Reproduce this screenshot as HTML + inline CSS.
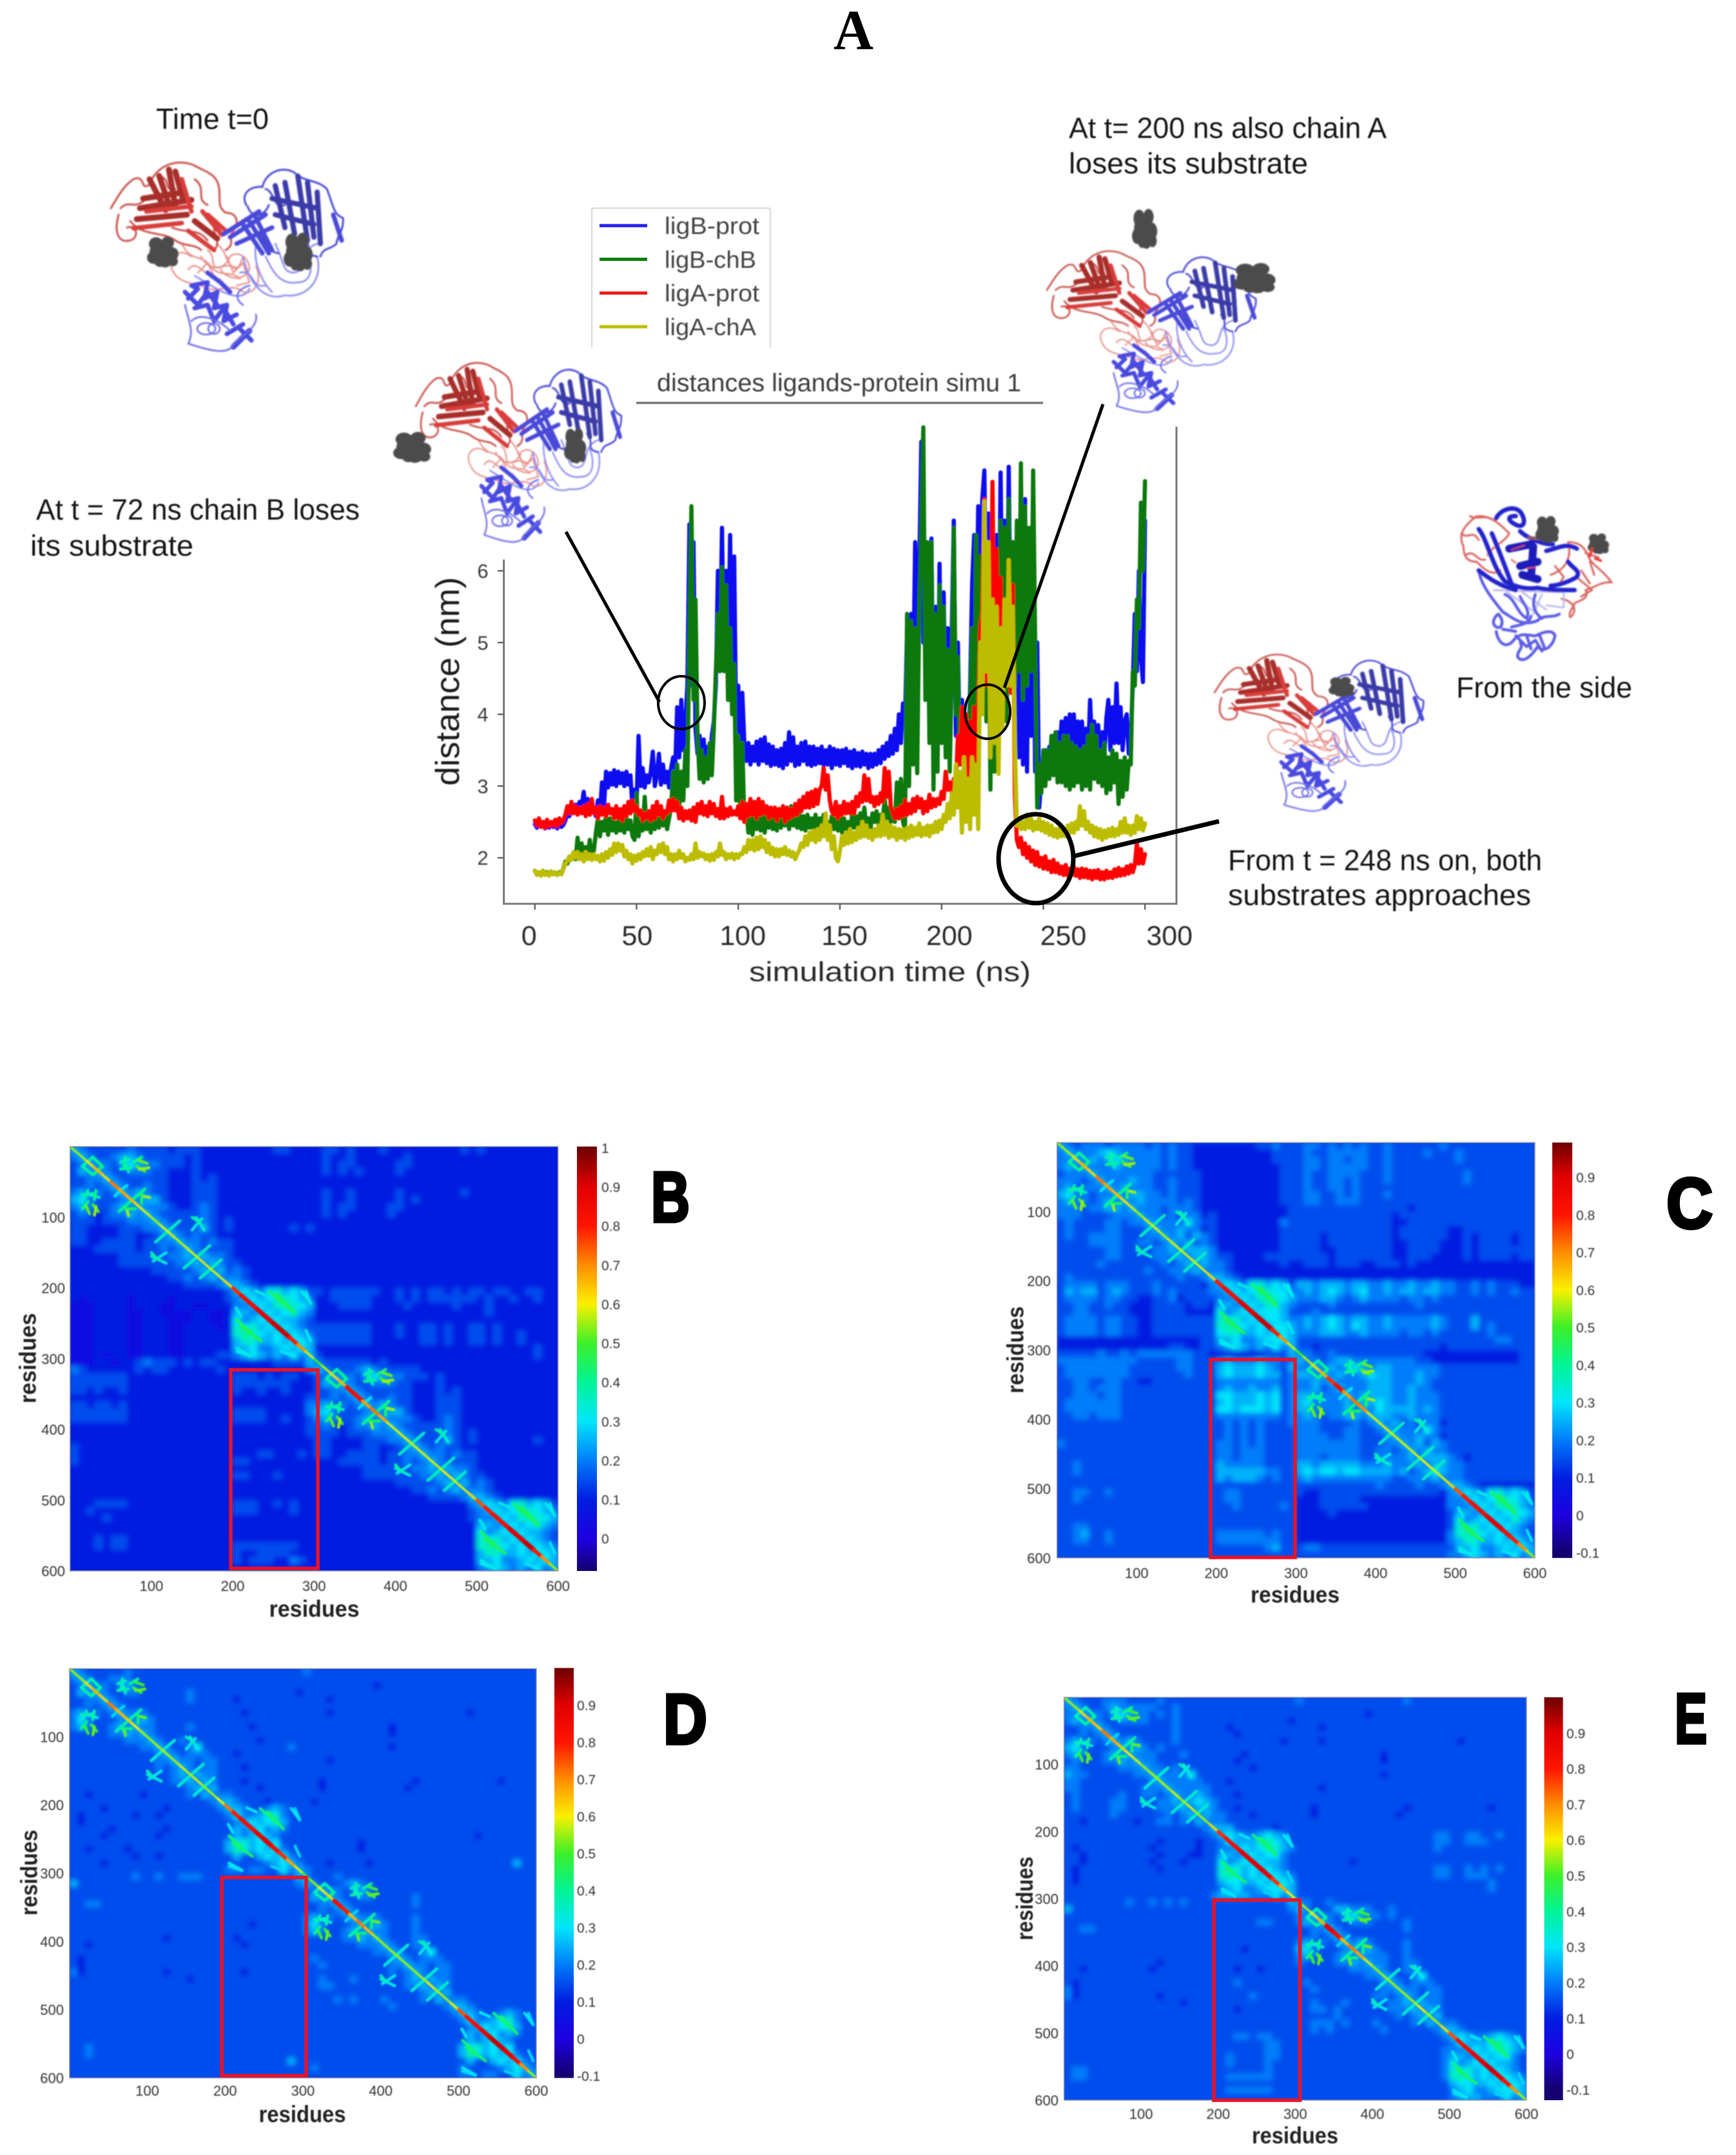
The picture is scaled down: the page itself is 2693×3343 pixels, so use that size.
<!DOCTYPE html>
<html lang="en"><head><meta charset="utf-8"><title>Ligand distances and correlation maps</title>
<style>
html,body{margin:0;padding:0;background:#fff}
svg{display:block}
text{font-family:"Liberation Sans",sans-serif}
</style></head>
<body>
<svg id="fig" xmlns="http://www.w3.org/2000/svg" width="2693" height="3343" viewBox="0 0 2693 3343">
<defs>
<filter id="soft" x="-5%" y="-5%" width="110%" height="110%"><feGaussianBlur stdDeviation="1"/></filter>
<filter id="softer" x="-5%" y="-5%" width="110%" height="110%"><feGaussianBlur stdDeviation="0.7"/></filter>
<filter id="cellblur" x="-5%" y="-5%" width="110%" height="110%"><feGaussianBlur stdDeviation="4"/></filter>
<g id="protein-fold" fill="none" stroke-linecap="round" stroke-linejoin="round">
  <g stroke="#e8908a" stroke-width="2.4">
    <path d="M125 150 C105 135 85 150 95 170 C105 195 135 190 150 200 C170 205 190 190 205 205 C225 210 235 185 225 165"/>
    <path d="M140 150 C150 170 175 175 185 150 C195 140 215 150 215 170 C205 190 180 185 170 170"/>
    <path d="M150 140 C165 150 150 175 175 165 C195 160 195 180 205 150"/>
    <path d="M110 130 C125 160 140 145 155 165 C170 185 190 170 200 185 M165 130 C185 150 175 160 195 170 M120 170 C135 150 150 190 170 185"/>
    <path d="M180 150 L190 175 L205 160 L215 190 L195 195 M135 175 L150 160 L160 180"/>
  </g>
  <g stroke="#c9524e" stroke-width="3">
    <path d="M0 75 C12 55 20 40 35 30 C55 22 45 50 60 38 C70 10 100 -3 128 8 C150 20 165 22 168 45 C170 65 165 72 178 82 C195 82 200 95 190 110 C180 120 195 130 178 140"/>
    <path d="M12 85 C5 110 10 130 30 125 C45 120 40 100 25 105"/>
    <path d="M30 95 C50 120 80 110 100 125 C115 135 130 130 140 140"/>
    <path d="M15 75 C30 60 35 80 55 60 M75 25 C95 30 80 50 100 45 M130 30 C150 45 130 60 150 70"/>
    <path d="M95 105 C120 115 135 105 150 125 M165 95 C150 110 175 125 160 140"/>
  </g>
  <g stroke="#a82f2c" stroke-width="9">
    <path d="M45 75 L125 62"/><path d="M40 92 L118 85"/><path d="M60 30 L85 78"/><path d="M75 25 L92 75"/><path d="M90 15 L100 72"/><path d="M130 95 L165 122"/><path d="M50 60 L115 50"/><path d="M100 18 L112 62"/>
  </g>
  <g stroke="#d83d3a" stroke-width="7">
    <path d="M35 106 L110 98"/><path d="M110 30 L125 80"/><path d="M142 80 L172 116"/><path d="M120 110 L160 140"/><path d="M150 85 L178 110"/><path d="M55 80 L125 72"/>
  </g>
  <g stroke="#8a8aee" stroke-width="2.6">
    <path d="M205 150 C215 195 240 220 270 210 C300 215 330 190 320 150"/>
    <path d="M240 150 C250 170 260 195 290 190 C315 190 312 160 305 145"/>
    <path d="M215 200 C200 230 150 190 130 180"/>
    <path d="M225 130 C220 160 235 190 250 205"/>
    <path d="M255 130 C270 160 265 175 285 175 C305 170 290 140 320 130 M200 175 C225 170 215 200 240 195"/>
  </g>
  <g stroke="#4a4ad6" stroke-width="3">
    <path d="M210 70 C200 50 220 40 235 42 C240 20 265 8 285 20 C300 35 320 30 335 45 C345 70 345 85 360 90 C362 110 350 120 350 130 C340 140 330 135 325 150"/>
    <path d="M212 72 C220 95 240 85 245 70"/>
    <path d="M240 45 C255 50 250 75 270 70 M300 120 C315 135 295 145 320 150 M225 110 C245 125 235 140 260 145"/>
  </g>
  <g stroke="#3a3aa8" stroke-width="8">
    <path d="M255 40 L270 105"/><path d="M270 35 L285 115"/><path d="M290 25 L305 125"/><path d="M320 50 L325 130"/><path d="M250 60 L320 75"/><path d="M255 85 L315 100"/><path d="M305 35 L315 120"/>
  </g>
  <g stroke="#4848d8" stroke-width="7">
    <path d="M185 120 L240 85"/><path d="M195 130 L250 105"/><path d="M205 100 L235 145"/><path d="M225 90 L250 140"/><path d="M345 85 L358 125"/><path d="M175 115 L230 80"/><path d="M215 95 L245 145"/>
  </g>
  <g stroke="#4a4ae0" stroke-width="7">
    <path d="M120 215 L135 200 L125 195 L150 190 L145 215 L165 205 L160 230 L180 225 L175 250 L195 240"/>
    <path d="M130 230 L150 225 L160 250 L175 230 L190 255"/>
    <path d="M150 175 L170 190 L185 205"/>
    <path d="M115 205 L135 225 L150 205 L165 225"/>
    <path d="M190 290 L215 265" stroke-width="9"/><path d="M200 262 L218 280"/><path d="M180 270 L205 255"/>
  </g>
  <g stroke="#6a6ae8" stroke-width="2.6">
    <path d="M115 225 C120 250 130 265 120 285 C150 295 185 305 190 285 C200 275 230 260 225 240"/>
    <ellipse cx="148" cy="262" rx="14" ry="9"/><ellipse cx="160" cy="262" rx="9" ry="8"/>
    <path d="M125 250 C140 235 170 250 185 265 M205 225 C190 215 195 200 215 195"/>
  </g>
</g>
<g id="ligand-blob" fill="#4b4b4b">
  <circle cx="14" cy="12" r="11"/><circle cx="32" cy="10" r="10"/><circle cx="24" cy="24" r="14"/><circle cx="10" cy="34" r="10"/><circle cx="38" cy="28" r="11"/><circle cx="28" cy="40" r="10"/><circle cx="40" cy="40" r="8"/><circle cx="14" cy="24" r="10"/><circle cx="20" cy="40" r="9"/>
</g>
</defs>

<rect x="0" y="0" width="2693" height="3343" fill="#fff"/>
<text x="1293" y="76" style="font-family:'Liberation Serif',serif;font-weight:700" font-size="88" fill="#000" textLength="62" lengthAdjust="spacingAndGlyphs">A</text>

<g id="proteins" filter="url(#soft)">
  <g>
    <use href="#protein-fold" transform="translate(172,248)"/>
    <use href="#ligand-blob" transform="translate(228,367) scale(1,0.96)"/>
    <use href="#ligand-blob" transform="translate(440,361) scale(0.92,1.2)"/>
  </g>
  <g>
    <use href="#protein-fold" transform="translate(645,559) scale(0.885,0.95)"/>
    <use href="#ligand-blob" transform="translate(610,670) scale(1.2,0.96)"/>
    <use href="#ligand-blob" transform="translate(875,664) scale(0.7,1.1)"/>
  </g>
  <g>
    <use href="#protein-fold" transform="translate(1624,386) scale(0.9,0.855)"/>
    <use href="#ligand-blob" transform="translate(1756,324) scale(0.8,1.24)"/>
    <use href="#ligand-blob" transform="translate(1913,408) scale(1.34,0.94)"/>
  </g>
  <g>
    <use href="#protein-fold" transform="translate(1884,1012) scale(0.9,0.83)"/>
    <use href="#ligand-blob" transform="translate(2061,1050) scale(0.82,0.62)"/>
  </g>
  <g transform="translate(2250,770) scale(0.338)" fill="none" stroke-linecap="round" stroke-linejoin="round">
    <g stroke="#d9635e" stroke-width="9">
      <path d="M120 90 C70 130 30 170 60 230 C60 280 80 300 120 300 C150 330 190 370 230 340"/>
      <path d="M130 90 C190 90 230 130 270 170 C250 210 190 230 170 270"/>
      <path d="M90 90 C120 110 160 80 200 110 M50 170 C80 200 100 150 130 200 M70 270 C110 240 120 300 160 290"/>
      <path d="M460 360 C520 340 560 290 540 210 C600 210 620 240 640 290 C660 320 700 340 740 395 C690 390 660 420 620 430 C640 470 590 480 570 490 C560 520 540 530 550 555 C590 520 560 480 510 470"/>
      <path d="M620 260 L680 280 M640 300 L660 360 M600 340 L640 400 M480 320 L520 370 L500 400 M590 380 L650 430 L600 460"/>
    </g>
    <g stroke="#b8b8f0" stroke-width="8"><path d="M200 430 L520 440 L520 510 L440 500"/><path d="M260 440 L400 540 M330 440 L440 520 M420 450 L380 540"/></g>
    <g stroke="#5a5ae6" stroke-width="13">
      <path d="M130 340 C140 410 200 480 240 530 C290 560 330 600 400 570 C430 540 470 560 500 540"/>
      <path d="M250 450 C300 470 300 530 350 560 C370 520 330 490 320 460 M390 450 C370 500 390 540 420 560"/>
      <path d="M220 540 C180 570 200 610 230 600 C250 570 220 540 220 540 M210 620 C220 680 260 700 290 660 C320 620 360 640 390 640 C430 620 470 610 480 640 C470 690 430 720 400 690 C380 720 340 770 310 740 C300 710 340 700 320 670"/>
      <path d="M280 600 C310 590 360 590 370 550 M300 640 L350 690 L390 660 L420 710 M240 610 L300 620 M350 640 L370 700 M410 640 L430 690"/>
    </g>
    <g stroke="#2222cc" stroke-width="20">
      <path d="M130 150 C170 200 190 320 250 390 C290 410 340 430 400 420 C440 430 500 430 570 430"/>
      <path d="M210 100 C230 60 290 40 320 70 C350 110 340 150 300 130 C260 110 260 90 300 90"/>
      <path d="M190 170 C220 240 250 320 280 400 M130 340 C170 370 220 410 300 430"/>
      <path d="M440 250 C490 240 530 210 580 240 M540 300 C560 330 600 340 580 370 C550 390 490 410 460 410"/>
      <path d="M320 160 C350 190 420 220 470 220"/>
    </g>
    <g stroke="#1a1ab8" stroke-width="36">
      <path d="M270 240 L370 220 M320 320 L400 300 M330 360 L400 380 M380 230 L370 370"/>
    </g>
    <g stroke="#e85040" stroke-width="6"><path d="M280 245 L340 225 M280 290 L300 305 M350 330 L390 325"/></g>
    <g stroke="#8e5a60" stroke-width="16"><path d="M360 190 L420 195"/></g>
    <use href="#ligand-blob" transform="translate(390,90) scale(2.2,2.5)" stroke="none"/>
    <use href="#ligand-blob" transform="translate(630,170) scale(2,1.9)" stroke="none"/>
    <path stroke="#ef3a30" stroke-width="12" d="M650 240 L640 275 M665 285 L690 295"/>
  </g>
</g>

<g id="annotations" filter="url(#softer)" fill="#161616" font-size="45">
  <text x="242" y="200" textLength="175" lengthAdjust="spacingAndGlyphs">Time t=0</text>
  <text x="56" y="806" textLength="502" lengthAdjust="spacingAndGlyphs">At t = 72 ns chain B loses</text>
  <text x="47" y="862" textLength="253" lengthAdjust="spacingAndGlyphs">its substrate</text>
  <text x="1658" y="214" textLength="493" lengthAdjust="spacingAndGlyphs">At t= 200 ns also chain A</text>
  <text x="1658" y="269" textLength="371" lengthAdjust="spacingAndGlyphs">loses its substrate</text>
  <text x="2259" y="1082" textLength="273" lengthAdjust="spacingAndGlyphs">From the side</text>
  <text x="1905" y="1350" textLength="487" lengthAdjust="spacingAndGlyphs">From t = 248 ns on, both</text>
  <text x="1905" y="1404" textLength="470" lengthAdjust="spacingAndGlyphs">substrates approaches</text>
</g>

<g id="line-chart"></g>

<g id="callouts" fill="none" stroke="#000">
  <line x1="878" y1="825" x2="1023" y2="1089" stroke-width="5"/>
  <ellipse cx="1057" cy="1090" rx="36" ry="41" stroke-width="4"/>
  <line x1="1711" y1="627" x2="1558" y2="1067" stroke-width="5"/>
  <ellipse cx="1532" cy="1104" rx="35" ry="42" stroke-width="4"/>
  <line x1="1666" y1="1328" x2="1891" y2="1274" stroke-width="7"/>
  <ellipse cx="1607" cy="1332" rx="58" ry="69" stroke-width="7"/>
</g>

<g id="heatmaps"></g>
</svg>

<script>
/* ---------- panel A: distance series, one value per ns, nm ---------- */
const seriesNames = ['ligB-prot','ligB-chB','ligA-prot','ligA-chA'];
const xTicks = [0,50,100,150,200,250,300];
const yTicks = [2,3,4,5,6];
const ligBProt = [
2.47,2.42,2.5,2.44,2.48,2.41,2.46,2.42,2.49,2.43,
2.46,2.41,2.47,2.43,2.46,2.52,2.62,2.58,2.72,2.66,
2.74,2.68,2.78,2.7,2.92,2.72,2.82,2.68,2.76,2.66,
2.58,2.8,2.62,3.05,2.72,3.2,2.98,3.18,3.02,3.22,
3.0,3.2,3.04,3.18,3.0,3.2,3.02,3.15,2.7,2.95,
2.75,3.7,3.0,3.25,2.98,3.15,3.05,3.2,3.48,3.0,
3.15,3.45,3.02,3.3,3.05,3.2,2.98,3.25,3.4,3.25,
4.1,3.4,4.2,3.5,3.9,4.4,6.65,4.4,6.4,3.8,
3.45,3.7,3.3,3.65,3.25,3.55,3.2,3.7,3.9,4.4,
6.0,4.8,6.6,4.7,6.0,4.6,6.5,4.5,6.2,3.8,
4.4,3.3,4.3,3.6,3.35,3.6,3.3,3.55,3.35,3.62,
3.3,3.65,3.35,3.68,3.32,3.58,3.28,3.55,3.3,3.5,
3.28,3.52,3.25,3.6,3.3,3.75,3.35,3.68,3.28,3.55,
3.3,3.6,3.35,3.62,3.3,3.55,3.28,3.55,3.3,3.52,
3.32,3.55,3.28,3.5,3.3,3.55,3.25,3.52,3.3,3.5,
3.28,3.5,3.32,3.52,3.28,3.48,3.25,3.5,3.28,3.46,
3.27,3.48,3.3,3.45,3.25,3.45,3.27,3.45,3.3,3.5,
3.32,3.55,3.38,3.6,3.42,3.7,3.45,3.8,3.5,4.0,
3.6,4.15,3.9,5.2,4.3,5.4,4.4,6.4,4.5,6.0,
7.8,5.0,5.8,4.6,6.0,6.45,3.7,5.5,3.6,6.1,
3.9,5.7,3.9,5.2,3.6,5.2,6.7,3.7,5.0,3.5,
4.2,3.4,4.0,3.2,4.4,5.8,6.5,5.0,6.9,5.2,
7.0,7.4,5.5,6.8,3.9,6.2,4.6,6.5,4.6,7.37,
5.0,6.7,4.8,7.45,5.0,6.4,3.3,6.0,3.4,7.0,
3.3,7.0,3.2,6.3,3.7,6.0,3.2,5.0,2.7,3.1,
3.2,3.5,3.3,3.55,3.4,3.7,3.35,3.75,3.45,3.9,
3.5,3.95,3.55,4.0,3.5,4.0,3.45,3.9,3.45,3.9,
3.45,3.8,3.4,4.2,3.55,3.9,3.4,3.85,3.35,3.75,
3.4,3.95,4.2,3.5,4.1,3.6,4.43,3.6,4.1,3.5,
3.9,4.0,3.45,3.7,4.4,5.4,4.6,6.0,4.8,4.45,
6.7];
const ligBChB = [
1.82,1.78,1.8,1.76,1.82,1.77,1.8,1.78,1.81,1.77,
1.79,1.76,1.8,1.77,1.85,1.95,1.92,2.02,1.98,2.05,
1.98,2.28,2.0,2.2,2.02,2.15,2.0,2.25,2.02,2.1,
2.35,2.55,2.3,2.5,2.38,2.6,2.32,2.55,2.38,2.5,
2.35,2.52,2.38,2.55,2.35,2.58,2.4,2.52,2.3,2.25,
2.9,2.3,2.5,2.38,2.85,2.4,2.55,2.35,2.62,2.4,
2.58,2.42,2.6,2.45,2.62,2.4,2.55,2.7,3.2,2.7,
3.3,2.7,3.2,2.8,3.5,3.0,5.2,6.9,4.2,5.6,
3.7,3.1,3.5,3.05,3.4,3.1,3.6,3.15,3.8,4.6,
5.4,4.6,6.05,4.6,5.8,4.2,5.2,4.0,4.7,2.8,
3.7,2.6,3.6,2.5,2.65,2.35,2.55,2.32,2.6,2.4,
2.62,2.38,2.6,2.35,2.58,2.42,2.65,2.4,2.6,2.38,
2.6,2.42,2.65,2.45,2.68,2.4,2.72,2.45,2.6,2.42,
2.62,2.4,2.58,2.38,2.6,2.42,2.55,2.38,2.6,2.4,
2.55,2.42,2.6,2.38,2.5,2.36,2.58,2.4,2.55,2.38,
2.6,2.35,2.55,2.4,2.5,2.35,2.6,2.42,2.58,2.4,
2.62,2.45,2.7,2.42,2.55,2.4,2.62,2.5,2.65,2.45,
2.6,2.5,2.82,2.55,2.7,2.5,2.6,2.5,3.05,2.55,
3.1,2.5,2.4,5.4,3.0,5.3,3.3,5.2,3.18,5.5,
6.5,8.0,4.2,6.4,3.6,6.4,2.95,5.4,3.2,5.8,
3.6,5.5,3.4,4.9,3.2,4.6,6.6,4.0,4.8,3.3,
4.0,3.2,3.9,3.0,4.2,5.2,3.5,6.5,3.9,6.2,
4.2,6.4,3.9,5.8,2.95,5.6,3.2,6.3,3.5,6.7,
4.4,6.6,3.9,7.0,4.4,6.4,4.4,6.7,4.6,7.5,
4.2,6.9,4.4,6.6,4.6,7.4,5.0,2.7,3.3,2.9,
3.5,3.0,3.5,3.1,3.7,3.15,3.75,3.05,3.6,3.05,
3.7,3.0,3.7,2.95,3.6,3.0,3.55,3.05,3.5,2.95,
3.55,3.0,3.7,2.95,3.85,3.1,3.7,3.05,3.5,3.0,
3.6,2.9,3.4,2.95,3.5,3.05,3.45,2.75,3.35,2.85,
3.4,2.95,3.35,3.3,4.6,4.4,5.6,5.2,6.95,6.0,
7.25];
const ligAProt = [
2.52,2.45,2.55,2.43,2.5,2.42,2.53,2.44,2.5,2.45,
2.53,2.44,2.55,2.48,2.52,2.6,2.72,2.62,2.78,2.62,
2.72,2.6,2.7,2.62,2.72,2.58,2.75,2.6,2.82,2.62,
2.7,2.55,2.72,2.6,2.7,2.58,2.74,2.62,2.68,2.55,
2.72,2.55,2.68,2.52,2.72,2.58,2.78,2.62,2.8,2.65,
2.72,2.6,2.66,2.52,2.62,2.55,2.65,2.52,2.72,2.55,
2.78,2.6,2.72,2.55,2.65,2.62,2.8,2.65,2.82,2.66,
2.78,2.55,2.7,2.52,2.65,2.55,2.66,2.52,2.7,2.5,
2.75,2.62,2.78,2.6,2.72,2.58,2.78,2.62,2.75,2.58,
2.68,2.55,2.85,2.55,2.68,2.58,2.7,2.6,2.65,2.6,
2.72,2.55,2.78,2.5,2.75,2.58,2.82,2.6,2.78,2.55,
2.82,2.6,2.78,2.62,2.72,2.55,2.7,2.58,2.7,2.52,
2.68,2.58,2.72,2.5,2.7,2.55,2.68,2.58,2.75,2.6,
2.8,2.65,2.85,2.7,2.9,2.7,2.92,2.72,2.95,2.75,
2.95,3.0,3.25,2.95,3.15,2.8,2.65,2.6,2.78,2.55,
2.72,2.6,2.78,2.62,2.75,2.62,2.78,2.62,2.85,2.72,
2.9,2.78,3.15,2.8,3.1,2.78,2.85,2.72,2.85,2.75,
2.9,2.78,3.25,2.85,3.2,2.72,2.62,2.55,2.68,2.55,
2.72,2.58,2.8,2.6,2.75,2.62,2.82,2.65,2.85,2.7,
2.82,2.62,2.78,2.65,2.88,2.7,2.82,2.72,2.82,2.75,
2.92,2.82,3.2,2.95,3.05,2.9,3.1,3.0,3.7,3.3,
4.1,3.2,4.0,3.1,3.9,3.3,4.1,3.3,3.9,5.2,
5.4,7.0,4.4,5.5,3.9,7.24,4.6,6.3,4.8,5.9,
4.2,5.4,4.6,5.6,4.3,5.8,2.9,2.25,2.15,2.28,
2.05,2.2,2.0,2.15,1.95,2.1,1.9,2.08,1.88,2.0,
1.85,2.02,1.84,1.95,1.8,1.97,1.8,1.92,1.78,1.88,
1.76,1.9,1.75,1.85,1.76,1.88,1.75,1.84,1.72,1.85,
1.73,1.84,1.72,1.82,1.7,1.82,1.72,1.83,1.7,1.8,
1.7,1.82,1.72,1.8,1.72,1.84,1.74,1.86,1.75,1.84,
1.76,1.88,1.78,1.9,1.8,1.9,2.2,1.92,2.12,1.92,
2.05];
const ligAChA = [
1.82,1.76,1.8,1.75,1.82,1.76,1.79,1.75,1.81,1.77,
1.8,1.76,1.79,1.77,1.84,1.92,1.96,2.02,1.97,2.08,
2.0,2.08,1.98,2.05,1.95,2.08,1.98,2.05,1.97,2.05,
1.98,2.03,1.95,2.05,1.96,2.08,2.0,2.12,2.04,2.2,
2.08,2.2,2.1,2.18,2.02,2.1,1.98,2.05,1.92,2.03,
1.96,2.05,1.98,2.08,2.02,2.12,2.03,2.15,1.98,2.1,
2.05,2.18,2.08,2.2,2.05,2.15,1.98,2.05,1.95,2.05,
1.98,2.1,2.0,2.05,1.95,2.0,1.97,2.05,1.98,2.2,
2.0,2.08,2.02,2.06,1.98,2.04,1.96,2.05,1.97,2.08,
2.02,2.2,2.04,2.08,1.98,2.05,2.0,2.06,1.98,2.05,
2.0,2.06,2.05,2.15,2.08,2.25,2.12,2.25,2.1,2.28,
2.12,2.3,2.15,2.25,2.08,2.2,2.05,2.14,2.02,2.12,
2.02,2.12,2.05,2.15,2.04,2.1,2.02,2.08,1.98,2.05,
2.1,2.2,2.15,2.3,2.18,2.35,2.25,2.38,2.22,2.4,
2.25,2.45,2.3,2.62,2.25,2.45,2.12,2.3,2.0,1.95,
2.1,2.3,2.18,2.35,2.2,2.4,2.22,2.35,2.25,2.42,
2.28,2.5,2.3,2.45,2.28,2.38,2.25,2.4,2.3,2.45,
2.3,2.6,2.32,2.5,2.28,2.45,2.3,2.42,2.25,2.4,
2.28,2.4,2.25,2.42,2.28,2.45,2.3,2.42,2.32,2.48,
2.3,2.42,2.32,2.45,2.3,2.45,2.35,2.5,2.36,2.52,
2.4,2.6,2.5,2.75,2.55,2.9,2.6,3.3,2.7,3.2,
2.35,3.4,2.5,3.1,2.4,3.4,2.6,3.3,2.4,5.0,
4.0,6.97,4.6,6.4,3.4,5.6,3.6,5.5,3.17,5.2,
3.8,5.6,4.4,6.15,4.4,5.5,3.6,2.45,2.55,2.4,
2.5,2.4,2.6,2.42,2.55,2.38,2.5,2.4,2.55,2.38,
2.5,2.35,2.48,2.32,2.45,2.3,2.4,2.28,2.42,2.3,
2.4,2.3,2.45,2.35,2.48,2.35,2.5,2.4,2.72,2.45,
2.65,2.4,2.5,2.35,2.45,2.3,2.42,2.28,2.4,2.25,
2.38,2.28,2.4,2.3,2.42,2.3,2.4,2.32,2.5,2.35,
2.55,2.35,2.45,2.32,2.45,2.35,2.58,2.4,2.55,2.38,
2.48];

/* ---------- panels B-E: correlation maps, 10-residue cells, code/20 = value ---------- */
const residueTicks = [100,200,300,400,500,600];
const colorbarTicksB = [0,0.1,0.2,0.3,0.4,0.5,0.6,0.7,0.8,0.9,1];
const colorbarTicksCDE = [-0.1,0,0.1,0.2,0.3,0.4,0.5,0.6,0.7,0.8,0.9];
const colorValues = [-0.1,0,0.1,0.2,0.3,0.4,0.5,0.6,0.7,0.8,0.9,1];
const colorRgb = ['20,0,110','30,0,225','0,30,225','0,125,250','0,230,250','0,245,150','60,240,40','250,240,0','255,140,0','255,20,0','225,0,0','110,0,0'];
const contactStrokes = [
[15,28,28,40,.4],[28,40,40,28,.42],[40,28,28,15,.4],[28,15,15,28,.38],
[15,68,30,66,.38],[15,88,22,78,.42],[28,82,35,92,.5],[22,68,36,72,.36],
[62,22,72,18,.38],[62,32,75,30,.4],[85,20,95,24,.52],[85,32,97,30,.55],
[92,60,60,92,.4],[62,62,55,70,.3],[90,70,98,72,.55],[80,88,68,88,.45],
[135,105,105,135,.36],[172,140,140,172,.36],[186,160,160,186,.36],
[118,165,100,155,.34],[150,118,162,102,.32],[150,100,160,108,.38],
[210,255,235,275,.46],[205,290,222,296,.3],[210,240,204,228,.32],[245,205,262,222,.44],[285,205,296,222,.32],[290,260,296,275,.3]
];
const strokeOffset = 300;

const cellsB = [
"5433333433 3323332222 2222233222 2332322232 2222222232 3222222222",
"4543345543 3333232222 2222222222 2322322222 2322222222 2222222222",
"3454435654 4333232222 2222222222 2323322222 3322222222 2222222222",
"3545433444 3322232222 2222222222 2323232222 3222222222 2222222222",
"3344543333 3322232322 2222222222 2222222222 2222222222 2222222222",
"3343454334 3322233322 2222222222 2222222222 2222222222 2222222222",
"4534345454 3322233322 2222222222 2322322222 3222222232 2222222222",
"5643334545 5322233322 2222222222 2322322222 3232222222 2222222222",
"4543345454 4432234322 2222222222 2323322223 3222222222 2222222222",
"3432344545 4333334322 2222222222 2323222223 2222222222 2222222222",
"3332333444 5433334323 2222222222 2222222222 2222222222 2222222222",
"3322223334 4543335323 2222222323 2222222222 2222222222 2222222222",
"3322223322 3454343322 2222222222 2222222222 2222222222 2222222222",
"3322333323 3445443433 2222222222 2222222222 2222222222 2222222222",
"2223333323 3434543333 2222222222 2222222222 2222222222 2222222222",
"2222223333 3344545443 2222222222 2222222222 2222222222 2222222222",
"2222223333 3334454543 3222222222 2222222222 2222222222 2222222222",
"2222222222 3333345453 4322222222 2222222222 2222222222 2222222222",
"2222222222 2233434544 4322222222 2222222222 2222222222 2222222222",
"2222222222 2222333345 5432222222 2222222222 2222222222 2222222222",
"2222222222 2222222223 5654675653 3233333322 3232332323 3233223322",
"2122222122 2212222223 4565687654 2233333222 3232333333 2322322322",
"1112222122 2112211222 4456578765 2223333222 2322222322 2322222222",
"1112222112 2111122112 5545656754 2222222222 2222222222 2322222222",
"1112222112 2211122112 6456565543 2222222222 2222222222 2222222222",
"1112222112 2211222212 7675656543 3333333222 3223323223 3232222222",
"1112222112 2211222222 7876565654 3333333222 3223323223 3232232222",
"1112222112 2211222222 5775565665 3333333222 2223323223 3232232222",
"1112222112 2211222222 5564456565 2222222222 2222222222 2222222322",
"1112122112 2211222233 4565454645 3222222222 2222222222 2222222322",
"1112212234 3332323322 2222233335 4333333232 2222222222 2222222222",
"4322222232 3322222232 2222222224 5433345433 3332222222 2222222222",
"3333333222 2222222222 3332323322 3454435654 4333232222 2222222222",
"3333333222 2222222222 3333333222 3545433444 3322232222 2222222222",
"3323223222 2222222222 3223223222 3344543333 3322232322 2222222222",
"2222222222 2222222222 2222222223 3343454334 3322233322 2222222222",
"3323323222 2222222222 2222222224 4534345454 3322233322 2222222222",
"3333333222 2222222222 3333222224 5643334545 5322233322 2222222222",
"3333333222 2222222222 3333223223 4543345454 4432234322 2222222222",
"2222222222 2222222222 2222222223 3432344545 4333334322 2222222222",
"2222222222 2222222222 2222222223 3332333444 5433334323 2222222222",
"2222222222 2222222222 2222222222 3322223334 4543335323 2222222322",
"3222222222 2222222222 2222222222 3322223322 3454343322 2222222222",
"3222222222 2222222222 2223322232 3322333323 3445443433 2222222222",
"3222222222 2222222222 3322222222 2223333323 3434543333 2222222222",
"2222222222 2222222222 2222222222 2222223333 3344545443 2222222222",
"2222222222 2222222222 3322232222 2222223333 3334454543 3222222222",
"2222222222 2222222222 2222222222 2222222222 3333345453 4322222222",
"2222222222 2222222222 2222222222 2222222222 2233434544 4322222222",
"2222222222 2222222222 2222222222 2222222222 2222333345 5432222222",
"2223333222 2222222222 3332232322 2222222222 2222222224 5654675653",
"2232222222 2222222222 3332222322 2222222222 2222222223 4565687654",
"2222322222 2222222222 2222222222 2222222222 2222222223 4456578765",
"2222222222 2222222222 2222222222 2222222222 2222222222 5545656754",
"2222222222 2222222222 2222222222 2222222222 2222222222 6456565543",
"2223233222 2222222222 2222222222 2222222222 2222222222 7675656543",
"2223233222 2222222222 3333333322 2222222222 2222222222 7876565654",
"2222222222 2222222222 3223333222 2222222222 2222222222 5775565665",
"2222222222 2222222222 3233322432 2222222222 2222222222 5564456565",
"2222222222 2222222222 2222222222 2222222222 2222222222 4565454645"];
const diagB = [.55,.55,.62,.66,.62,.72,.68,.66,.62,.58,.55,.58,.58,.56,.58,.58,.58,.58,.58,.62,.78,.84,.85,.88,.9,.92,.92,.8,.7,.58,.5,.56,.62,.66,.85,.85,.68,.72,.68,.58,.58,.58,.58,.58,.58,.58,.6,.58,.58,.62,.75,.8,.85,.85,.9,.9,.92,.8,.7,.55];

const cellsC = [
"5434443444 4343433222 2222233433 3443434343 3433333343 3333333333",
"4544456544 4443433222 2222222333 3433444443 3433334333 4333333333",
"4454545654 4443433222 2222222333 3443443443 3433333333 4333333333",
"4545444544 4443433222 2222222233 3443444443 3433333333 3333333333",
"3444544444 4433333322 2222222233 3433444433 3433333333 3433333333",
"4443454445 4433433322 2222222233 3433443433 3433333333 3433333333",
"4534445454 4433433322 2222222233 3433443433 3333333333 3333333333",
"5644344545 5443433322 2222222233 3443343433 3433333333 3333333333",
"4544345454 5444434322 2222222233 3443344433 3333333333 3333333333",
"4443445545 4443444322 2222222223 3333333333 3333233333 3333333333",
"4443333444 5443434423 2222222223 3333333333 3323333333 3333333333",
"3433334434 4544436433 2222222243 3333333333 3322333333 3333333333",
"3433334433 3454454423 2222222233 3333333333 3323333332 2333333333",
"3433444433 3445453543 2222222233 3332333333 3323333332 2323333233",
"3333444433 4434545343 2222222233 3332333333 3322333322 2323333233",
"3333334433 3344545554 2222222233 3332233333 3322333322 2323333333",
"3333334433 3344454554 3322223333 3333233333 3322333222 2323333233",
"3333343333 3334345454 4322222232 2333233322 3332322222 2222222222",
"3333333333 3433444544 4322222222 2222222222 2222222222 2222222222",
"3433333333 3333343345 5432222222 2222222222 2222222222 2222222222",
"3444434443 3343333324 5654675653 5545554554 4544544544 3343433322",
"3545534543 3343433334 4565687664 4545654564 4545545544 3343433433",
"3444434433 2233423333 4456578765 4445543454 4443443433 3333333333",
"3344334332 2233332332 5545657754 3333433333 3333343333 3333333333",
"3344333332 2233332222 6456566653 3343333333 3333333333 3333333333",
"3444434433 2233333333 7675656654 4545654554 4544444543 3353333333",
"3444434433 2233333333 7876565665 4545654654 4544444543 3353433333",
"3444434433 2233333333 6775565665 4445554454 4443443433 3333433333",
"2222222222 2222222233 5564456665 3333333333 3333333333 3333344333",
"2222222222 2222332233 4565454645 3323333333 3333333323 3333333333",
"3333343343 4444444332 2222223335 4433433333 3333332222 2222222233",
"4444444444 3333344333 4544454434 5443455444 4444433222 2222222233",
"3444444443 3333344333 5655565435 4454545654 5544444433 3333333333",
"3444444443 3333334333 5655565534 5545454456 5544454433 3333333333",
"3344334433 2233333333 4444444434 4454544445 5544454333 3333333333",
"3344344433 3333333333 4544544534 4453454445 5544544333 3333333333",
"3344434433 3333333333 6655565634 5544445455 5544544433 3333333333",
"3444444433 3333333333 5655565634 5644445455 6544544433 3333333333",
"3444444433 3333333333 6656665634 5544445454 6555545433 3333333333",
"3344344433 3333333333 4444444434 4543445545 5544544433 3333333333",
"3333333333 3333333333 3434343334 4443333434 5453434423 3333333333",
"3333333333 3333333333 3434343333 4443334433 4544436433 3333333333",
"3333333333 3333333333 3434343333 4444334433 3454454423 3333333333",
"4333333333 3333333333 4434343333 4444444433 3445453543 3333333333",
"3333333333 3333333333 4434443333 4444444433 4434545443 3333333333",
"3333333333 3333333333 4434443333 4443444433 4444545554 3233333333",
"3343333333 3333333333 5444443333 5545555544 4544454554 4333333333",
"3343333333 3333333333 5555554433 5656656655 5545345654 4333333333",
"3333333333 3333333333 5455543433 4544444444 4433444544 4333333333",
"3333333333 3333333333 3333333333 3333333333 4333343345 5432222222",
"3344334333 3333333333 3443333333 3223333333 3333333324 5654675653",
"3343333333 3333333333 3443333333 2223333322 2222222224 4565687653",
"3333333333 3333333333 3343333343 2223333332 2222222224 4456578754",
"3333333333 3333333333 3333333333 2222322222 2222222223 5545656765",
"3333333333 3333333333 3333333333 2222222222 2222222223 6456565754",
"3344333333 3333333333 3333333333 2222222222 2222222223 7675656543",
"3345334333 3333333333 4444443433 2222222222 2222222224 7876565543",
"3344334333 3333333333 4444444433 2222222222 2222222224 5775565654",
"3333333333 3333333333 3333334533 3443333333 3333333333 5564456565",
"3333333333 3333333333 3333333333 3333333333 3333333334 4565454645"];
const diagC = [.55,.55,.62,.66,.62,.72,.68,.66,.62,.58,.55,.58,.58,.56,.58,.58,.58,.58,.58,.62,.8,.85,.85,.9,.9,.92,.92,.8,.7,.58,.5,.56,.62,.66,.78,.85,.68,.72,.7,.58,.58,.58,.58,.58,.58,.58,.6,.58,.58,.62,.75,.8,.85,.85,.9,.9,.85,.8,.7,.55];

const cellsD = [
"5433333433 3333333333 3333333333 4333333333 3333333333 3333333333",
"4543344433 3333333333 3333333333 3333333333 3333333333 3333333333",
"3454434543 3333333333 3333333333 3333333332 3333333333 3333333333",
"3545433443 3333343333 3333333332 3333333333 3333333333 3333333333",
"3344543333 3333343333 3233333333 3332333333 3333333333 3333333333",
"3343454333 3333333333 3333333333 3333333333 3333333333 3333333333",
"4534345444 3333333333 3323333333 3332333333 3333333333 3233333333",
"4643334545 4333333333 3333333333 3333333333 3333333333 3333333333",
"4543345454 4333343333 3332333333 3333333333 3233333333 3333333333",
"3333344545 4333333333 3333333333 3333333333 3233333333 3333333333",
"3333333444 5433433333 3333233333 3333333333 3333333333 3333333333",
"3333333334 4543346333 3333333343 3333333333 3233333333 3333333333",
"3333333333 3454344433 3233333333 3333333333 3333333333 3333333333",
"3333333333 3445443443 3333333333 3332333333 3333333333 3333333333",
"3333333333 3434543443 3323333333 3333333333 3333333333 3333333333",
"3333333333 3334545443 3333333333 3333333333 3333333333 3333333333",
"3333333333 3334454543 3323333333 3323333333 3333233333 3333323333",
"3333333333 3333345453 3333233333 3323333333 3332333333 3333333333",
"3323333332 3333343544 4333333333 3333333333 3333333333 3333333333",
"3333333333 3333333345 5433323333 3233333333 3333333333 3333333333",
"3333233333 3323333334 5543345433 3333333333 3333333333 3333333333",
"3233333323 3233333333 4644567433 3333333333 3333333333 3333333333",
"3233333333 3333333333 3456567533 3333333333 3333333333 3333333333",
"3333323333 3323333333 3545645433 3333333333 3333333333 3333333333",
"3333233333 3233333333 3545654333 3333333333 3333333333 3323333333",
"3333333333 3333333333 5675656333 3333333233 3333333333 3333333333",
"3323333233 3333333333 5865656433 3333333233 3333333333 3333333333",
"3333333323 3233333333 3533565643 3333333333 3333333333 3333333333",
"3333233333 3333333333 3333345654 3332333323 3333333333 3333333533",
"3333333333 3333333333 4434433645 4333333333 3333333333 3333333333",
"3333333343 3433444333 3333333335 4333433333 3333333333 3333333333",
"5333333333 3333333333 3333333334 5433345433 3333333333 3333333333",
"3333333333 3333333333 3333333333 3454434543 3333333333 3333333333",
"3333333333 3333333333 3333333333 3545433443 3333433333 3333333333",
"3344333333 3333333333 3333333333 3344543333 3333433333 3333333333",
"3333333333 3333333333 3333333333 3343454333 3333333333 3333333333",
"3333333333 3333333333 3333333333 4534345444 3333433333 3333333333",
"3333333333 3333333333 3332333333 4643334545 4333433333 3333333333",
"3333333333 3333333333 3333333333 4543345454 4333433333 3333333333",
"3333333333 3323333333 3233333333 3333344545 4333443333 3333333333",
"3323333333 3333333333 3323333333 3333333444 5433443333 3333333333",
"3333333333 3333333333 3333333333 3333333334 4543346333 3333333333",
"3233333333 3333333333 3333333333 3433333333 3454344433 3333333333",
"3233333333 3333333333 3333333333 3343333333 3445443443 3333333333",
"4233333333 3323333333 3323333333 3333333333 3434543443 3333333333",
"3333333333 3333323333 3333333333 3343334333 3334545443 3333333333",
"3333333333 3333333333 3333333333 3344333333 3334454543 3333333333",
"3333333333 3333333333 3333333333 3333333333 3333345453 3333333333",
"3333333333 3333333333 3333333333 3333434333 4333343544 4333333333",
"3333333333 3333333333 3333333333 3333333333 3433333345 5433333333",
"3333333333 3333333333 3333333333 3333333333 3333333334 5543345433",
"3333333333 3333333333 3333333333 3333333333 3333333333 4644567433",
"3333333333 3333333333 3333333333 3333333333 3333333333 3456567533",
"3333333333 3333333333 3333333333 3333333333 3333333333 3545645433",
"3333333333 3333333333 3333333333 3333333333 3333333333 3545654333",
"3343333333 3333333333 3333333333 3333333333 3333333333 5675656333",
"3343333333 3333333333 3333333333 3333333333 3333333333 5865656433",
"3333333333 3333333333 3333333353 3333333333 3333333333 3533565643",
"3333333333 3333333333 3333333333 3433333333 3333333333 4333345654",
"3333333333 3333333333 3333333333 3333333333 3333333333 4434433645"];
const diagD = [.55,.55,.62,.66,.62,.72,.66,.64,.6,.56,.55,.56,.56,.55,.58,.56,.58,.55,.55,.6,.72,.8,.85,.85,.88,.9,.85,.78,.68,.58,.5,.55,.6,.62,.85,.8,.66,.72,.66,.56,.55,.55,.55,.55,.55,.56,.6,.56,.55,.6,.75,.82,.85,.87,.92,.92,.9,.82,.7,.55];

const cellsE = [
"5433344433 3343333333 3333333333 4333333333 3333433333 3333333333",
"4543345444 4433433333 3333333333 3333333333 3333333333 3333333333",
"4454435654 4343433333 3333333333 3333333332 3333333333 3333333333",
"4545433444 4333433333 3333333332 3333333333 3333333333 3333333333",
"3344543333 3333433333 3233333333 3332333333 3333333333 3333333333",
"3343454333 3333433333 3323333333 3333333333 3333333333 3333333333",
"4534345454 3333433333 3333333323 3332333333 3333333333 3233333333",
"5643334545 4343333333 3333333333 3333333333 3333333333 3333333333",
"4543345454 4433343333 3332333333 3333333333 3233333333 3333333333",
"3433344545 4433333333 3323333333 3333333333 3233333333 3333333333",
"4433333444 5443433333 3333233333 3333333333 3333333333 3333333333",
"5443333334 4544446333 3333333333 3333333333 3233333333 3333333333",
"4433333333 3454444433 3233333333 3333333333 3333333333 3333333333",
"4433333333 4445444443 3333333333 3332333333 3333333333 3333333333",
"3433333433 4434544543 3323333333 3333333333 3333333333 3333333333",
"3433334433 3344545654 3333333333 3333333333 3333333333 3333333333",
"3433334433 3344454554 3323333333 3323333333 3333233333 3333323333",
"3333334333 3334345454 4333233333 3323333333 3332333333 3333333333",
"3323333332 3344343544 4333333333 3333333333 3333333333 3333333333",
"3333333333 3333333345 5533333233 3333333333 3333333333 3333333333",
"3333333333 3333333334 5654456543 3333333333 3333333344 3344334333",
"3333333333 3323333233 4655578653 3333333333 3333333344 3344433333",
"3233333333 3233333233 4456568754 3333333333 3333333343 3333333333",
"3323333333 3323332233 5545656643 3333333333 3333333333 3333333333",
"3323333333 3233323333 6456565543 3333333233 3333333333 3333333333",
"3233333333 3323333333 7675656543 3333333333 3333333344 3343434333",
"3233333333 3333333333 7865656654 3333333333 3333333344 3344433333",
"3233333333 3333333333 5665565665 3333333333 3333333333 3333343333",
"3333333333 3333333333 4564456665 3333333333 3333333333 3333343333",
"3333333333 3333333334 5555444645 3333333333 3333333333 3333333333",
"3333333343 3434343333 3333333335 4433433333 3333333333 3333333333",
"5333333333 3333333333 3333333334 5433355444 3343333333 3333333333",
"3333333333 3333333333 3333333333 4454435654 4343333333 3333333333",
"3333333333 3333333333 3333344333 4545433444 3333433333 3333333333",
"3344333333 3333333333 3333333333 3344543333 3333433333 3333333333",
"3333333333 3333333333 3333333333 3343454333 3333333333 3333333333",
"3333333333 3333333333 3333333333 4534345454 3333433333 3333333333",
"3333333333 3333333333 3332333333 5643334545 4333433333 3333333333",
"3333333333 3333333333 3333333333 4543345454 4433433333 3333333333",
"3333333333 3323333333 3333333333 4333344545 4433443333 3333333333",
"3323333333 3233333333 3323323333 3333333444 5433443333 3333333333",
"3333333333 3333333333 3333333333 3333333334 4543346333 3333333333",
"3233333333 3333333333 3343333333 3433333333 3454344433 3333333333",
"4233333333 3333333333 3333333333 3343333333 3445443443 3333333333",
"4233333333 3323333333 3333433333 3333333333 4434543443 3333333333",
"3333333333 3333323333 3333333333 3343334333 3344545443 3333333333",
"3333333333 3333333333 3323333333 3344343333 3344454543 3333333333",
"3333333333 3333333333 3333333333 3333343333 3334345453 3333333333",
"3333333333 3333333333 3333333333 3344434333 4333343544 4333333333",
"3333333333 3333333333 3333333333 3343433333 3433333345 5433333333",
"3333333333 3333333333 3344344333 3333333333 3333333334 5654456543",
"3333333333 3333333333 3333334433 3333333333 3333333333 4655578653",
"3333333333 3333333333 3333334433 3333333333 3333333334 4456568754",
"3333333333 3333333333 3433334433 3333333333 3333333334 5545656643",
"3333333333 3333333333 3433334333 3333333333 3333333334 6456565543",
"3443333333 3333333333 3333334333 3333333333 3333333334 7675656543",
"3443333333 3333333333 3444444333 3333333333 3333333334 7865656654",
"3333333333 3333333333 3333333333 3333333333 3333333333 5665565665",
"3333333333 3333333333 3444444333 3333333333 3333333333 4564456665",
"3333333333 3333333333 3333333333 3333333333 3333333333 4555444645"];
const diagE = [.55,.55,.62,.66,.64,.72,.68,.64,.6,.58,.55,.56,.56,.56,.58,.56,.58,.55,.55,.62,.78,.82,.85,.88,.9,.9,.88,.78,.68,.6,.5,.55,.6,.66,.9,.85,.66,.72,.68,.58,.55,.55,.55,.55,.55,.56,.6,.56,.55,.62,.75,.82,.85,.87,.9,.92,.9,.82,.7,.55];

/* ---------- helpers ---------- */
const NS = 'http://www.w3.org/2000/svg';
function svgEl(tag, attrs, parent){
  const el = document.createElementNS(NS, tag);
  for (const k in attrs) el.setAttribute(k, attrs[k]);
  if (parent) parent.appendChild(el);
  return el;
}
function colorFor(v){
  if (v <= colorValues[0]) return 'rgb(' + colorRgb[0] + ')';
  for (let i = 1; i < colorValues.length; i++){
    if (v <= colorValues[i]){
      const t = (v - colorValues[i-1]) / (colorValues[i] - colorValues[i-1]);
      const a = colorRgb[i-1].split(',').map(Number);
      const b = colorRgb[i].split(',').map(Number);
      return 'rgb(' + a.map((c, n) => Math.round(c + (b[n] - c) * t)).join(',') + ')';
    }
  }
  return 'rgb(' + colorRgb[colorRgb.length - 1] + ')';
}

/* ---------- line chart ---------- */
(function(){
  const root = document.getElementById('line-chart');
  const xScale = ns => 829.7 + ns * 3.155;
  const yScale = nm => 1330.7 - (nm - 2) * 111.3;
  const axisColor = '#777';

  const legend = svgEl('g', {}, root);
  
  
  const legendBox = svgEl('path', {d:'M918 539 L918 326 Q918 323 921 323 L1192 323 Q1195 323 1195 326 L1195 539', fill:'#fff', stroke:'#ddd', 'stroke-width':2.5}, legend);
  
  
  const legendColors = ['#2222ee','#0f7a0f','#f01a1a','#bdbd08'];
  seriesNames.forEach((name, i) => {
    const y = 350 + i * 52.3;
    const swatch = svgEl('line', {x1:930, x2:1004, y1:y, y2:y, stroke:legendColors[i], 'stroke-width':5}, legend);
    
    
    const label = svgEl('text', {x:1031, y:y + 13, 'font-size':37, fill:'#444', textLength:i % 2 ? 142 : 147, lengthAdjust:'spacingAndGlyphs', filter:'url(#softer)'}, legend);
    
    
    label.textContent = name;
  });

  const title = svgEl('text', {x:1019, y:607, 'font-size':39, fill:'#3c3c3c', textLength:565, lengthAdjust:'spacingAndGlyphs', filter:'url(#softer)'}, root);
  
  
  title.textContent = 'distances ligands-protein simu 1';
  const titleRule = svgEl('line', {x1:987, x2:1618, y1:625, y2:625, stroke:'#777', 'stroke-width':3.5}, root);
  
  

  const leftSpine = svgEl('line', {x1:781.6, x2:781.6, y1:868, y2:1403, stroke:axisColor, 'stroke-width':3}, root);
  
  
  const bottomSpine = svgEl('line', {x1:780, x2:1826.5, y1:1402, y2:1402, stroke:axisColor, 'stroke-width':3}, root);
  
  
  const rightSpine = svgEl('line', {x1:1825, x2:1825, y1:662, y2:1403, stroke:axisColor, 'stroke-width':3}, root);
  
  

  yTicks.forEach(t => {
    const y = yScale(t);
    const tick = svgEl('line', {x1:772, x2:781, y1:y, y2:y, stroke:'#666', 'stroke-width':2.5}, root);
    
    
    const label = svgEl('text', {x:749, y:y + 11, 'font-size':31, fill:'#3a3a3a', 'text-anchor':'middle', filter:'url(#softer)'}, root);
    
    
    label.textContent = t;
  });
  const labelShift = [-9, 1, 7, 7, 12, 31, 38];
  xTicks.forEach((t, i) => {
    const x = xScale(t);
    const tick = svgEl('line', {x1:x, x2:x, y1:1402, y2:1411, stroke:'#666', 'stroke-width':2.5}, root);
    
    
    const label = svgEl('text', {x:x + labelShift[i], y:1466, 'font-size':43, fill:'#2a2a2a', 'text-anchor':'middle', filter:'url(#softer)'}, root);
    
    
    label.textContent = t;
  });
  const xTitle = svgEl('text', {x:1162, y:1522, 'font-size':43, fill:'#2a2a2a', textLength:437, lengthAdjust:'spacingAndGlyphs', filter:'url(#softer)'}, root);
  
  
  xTitle.textContent = 'simulation time (ns)';
  const yTitle = svgEl('text', {transform:'translate(712,1219) rotate(-90)', x:0, y:0, 'font-size':52, fill:'#1c1c1c', textLength:324, lengthAdjust:'spacingAndGlyphs', filter:'url(#softer)'}, root);
  
  
  yTitle.textContent = 'distance (nm)';

  const lines = svgEl('g', {filter:'url(#softer)', fill:'none', 'stroke-width':6.5, 'stroke-linejoin':'round', 'stroke-linecap':'round'}, root);
  
  
  const seriesValues = [ligBProt, ligBChB, ligAProt, ligAChA];
  const seriesColors = ['#0808f0','#0a780a','#ff0000','#bcbc00'];
  seriesValues.forEach((vals, s) => {
    const pts = vals.map((v, i) => xScale(i).toFixed(1) + ',' + yScale(v).toFixed(1)).join(' ');
    const line = svgEl('polyline', {points:pts, stroke:seriesColors[s]}, lines);
    
    
  });
})();

/* ---------- heatmap panels ---------- */
function drawPanel(p){
  const root = document.getElementById('heatmaps');
  const w = p.right - p.left, h = p.bottom - p.top;
  const xS = r => p.left + r / 600 * w;
  const yS = r => p.top + r / 600 * h;
  const panel = svgEl('g', {}, root);
  
  

  const clipId = 'clip-' + p.id;
  const defs = svgEl('defs', {}, panel);
  const clip = svgEl('clipPath', {id:clipId}, defs);
  svgEl('rect', {x:p.left, y:p.top, width:w, height:h}, clip);

  const outer = svgEl('g', {'clip-path':'url(#' + clipId + ')'}, panel);
  
  
  const cellsG = svgEl('g', {filter:'url(#cellblur)', 'shape-rendering':'crispEdges'}, outer);
  
  
  const under = svgEl('rect', {x:p.left - 30, y:p.top - 30, width:w + 60, height:h + 60, fill:colorFor(p.base)}, cellsG);
  
  
  const cw = w / 60, ch = h / 60;
  p.cells.forEach((row, i) => {
    const codes = row.replace(/ /g, '');
    for (let j = 0; j < codes.length; j++){
      const value = parseInt(codes[j], 36) / 20;
      const cell = svgEl('rect', {x:(p.left + j * cw).toFixed(2), y:(p.top + i * ch).toFixed(2), width:(cw + 0.6).toFixed(2), height:(ch + 0.6).toFixed(2), fill:colorFor(value)}, cellsG);
      
      
    }
  });

  const streaks = svgEl('g', {filter:'url(#soft)', 'stroke-linecap':'round', fill:'none', 'stroke-width':4.5}, outer);
  
  
  [0, strokeOffset].forEach(off => {
    contactStrokes.forEach(s => {
      const upper = svgEl('line', {x1:xS(s[1] + off), y1:yS(s[0] + off), x2:xS(s[3] + off), y2:yS(s[2] + off), stroke:colorFor(s[4] * p.gain)}, streaks);
      
      
      const lower = svgEl('line', {x1:xS(s[0] + off), y1:yS(s[1] + off), x2:xS(s[2] + off), y2:yS(s[3] + off), stroke:colorFor(s[4] * p.gain)}, streaks);
      
      
    });
  });

  const diagG = svgEl('g', {filter:'url(#soft)', 'stroke-linecap':'round'}, outer);
  
  
  p.diag.forEach((v, i) => {
    const seg = svgEl('line', {x1:xS(i * 10), y1:yS(i * 10), x2:xS(i * 10 + 10), y2:yS(i * 10 + 10), stroke:colorFor(v), 'stroke-width':(3.5 + Math.max(0, v - 0.6) * 12).toFixed(1)}, diagG);
    
    
  });

  const frame = svgEl('rect', {x:p.left, y:p.top, width:w, height:h, fill:'none', stroke:'#9a9aa8', 'stroke-width':1.5}, panel);
  
  

  const box = svgEl('rect', {x:p.red[0], y:p.red[1], width:p.red[2] - p.red[0], height:p.red[3] - p.red[1], fill:'none', stroke:'#e8132a', 'stroke-width':5.5}, panel);
  
  

  const textG = svgEl('g', {filter:'url(#softer)'}, panel);
  
  
  residueTicks.forEach(t => {
    const xl = svgEl('text', {x:xS(t), y:p.xLabelY, 'font-size':22, fill:'#333', 'text-anchor':'middle'}, textG);
    
    
    xl.textContent = t;
    const yl = svgEl('text', {x:p.yLabelX, y:yS(t) + 8, 'font-size':22, fill:'#333', 'text-anchor':'end'}, textG);
    
    
    yl.textContent = t;
  });
  const xt = svgEl('text', {x:p.xTitle[0], y:p.xTitle[1] + 12, 'font-size':36, 'font-weight':700, fill:'#222', 'text-anchor':'middle', textLength:p.xTitle[2], lengthAdjust:'spacingAndGlyphs'}, textG);
  
  
  xt.textContent = 'residues';
  const yt = svgEl('text', {transform:'translate(' + (p.yTitle[0] + 12) + ',' + p.yTitle[1] + ') rotate(-90)', x:0, y:0, 'font-size':36, 'font-weight':700, fill:'#222', 'text-anchor':'middle', textLength:p.yTitle[2], lengthAdjust:'spacingAndGlyphs'}, textG);
  
  
  yt.textContent = 'residues';

  /* colorbar */
  const cbTop = p.cb[2], cbBottom = p.cb[3];
  const vAtTop = p.cbV1, vAtBottom = p.cbV0;
  const cbY = v => cbBottom - (v - vAtBottom) / (vAtTop - vAtBottom) * (cbBottom - cbTop);
  const grad = svgEl('linearGradient', {id:'cb-' + p.id, x1:0, y1:1, x2:0, y2:0}, defs);
  colorValues.forEach((v, i) => {
    const off = (v - vAtBottom) / (vAtTop - vAtBottom);
    if (off >= -0.02 && off <= 1.02) svgEl('stop', {offset:Math.min(1, Math.max(0, off)), 'stop-color':'rgb(' + colorRgb[i] + ')'}, grad);
  });
  const bar = svgEl('rect', {x:p.cb[0], y:cbTop, width:p.cb[1] - p.cb[0], height:cbBottom - cbTop, fill:'url(#cb-' + p.id + ')'}, panel);
  
  
  p.cbTicks.forEach(t => {
    const lab = svgEl('text', {x:p.cbLabelX, y:cbY(t) + 8, 'font-size':21, fill:'#333'}, textG);
    
    
    lab.textContent = t;
  });

  const letter = svgEl('text', {x:p.letter[1], y:p.letter[2], 'font-size':110, 'font-weight':700, fill:'#000', stroke:'#000', 'stroke-width':5, textLength:p.letter[3], lengthAdjust:'spacingAndGlyphs'}, panel);
  
  
  letter.textContent = p.letter[0];
}

drawPanel({id:'b', left:108.7, right:865.7, top:1778.6, bottom:2437, cells:cellsB, diag:diagB, base:0.09, gain:1,
  red:[358,2125,493,2433], xLabelY:2468, yLabelX:101, xTitle:[487.5,2496,140], yTitle:[43.5,2107,140],
  cb:[895,926,1778.6,2437], cbV0:-0.083, cbV1:1.003, cbTicks:colorbarTicksB, cbLabelX:933, letter:['B',1010,1895,60]});
drawPanel({id:'c', left:1639.7, right:2381, top:1772.4, bottom:2416.8, cells:cellsC, diag:diagC, base:0.14, gain:1,
  red:[1878,2109,2009,2416], xLabelY:2448, yLabelX:1630, xTitle:[2009,2474,138], yTitle:[1575.5,2094,135],
  cb:[2408,2439,1772.4,2416.8], cbV0:-0.114, cbV1:0.992, cbTicks:colorbarTicksCDE, cbLabelX:2445, letter:['C',2585,1905,72]});
drawPanel({id:'d', left:107.8, right:832, top:2588.5, bottom:3223.5, cells:cellsD, diag:diagD, base:0.13, gain:0.95,
  red:[344,2912.5,475,3220], xLabelY:3251, yLabelX:99, xTitle:[469,3280,135], yTitle:[45.5,2905,133],
  cb:[860,890,2587.5,3223.5], cbV0:-0.106, cbV1:1, cbTicks:colorbarTicksCDE, cbLabelX:895, letter:['D',1029,2705,68]});
drawPanel({id:'e', left:1650.6, right:2368, top:2633, bottom:3258, cells:cellsE, diag:diagE, base:0.14, gain:0.95,
  red:[1883,2947.5,2016.5,3258], xLabelY:3287, yLabelX:1642, xTitle:[2009,3313,134], yTitle:[1590,2945,130],
  cb:[2395.5,2424.6,2633,3258], cbV0:-0.13, cbV1:1, cbTicks:colorbarTicksCDE, cbLabelX:2430, letter:['E',2598,2704,50]});
</script>
</body></html>
